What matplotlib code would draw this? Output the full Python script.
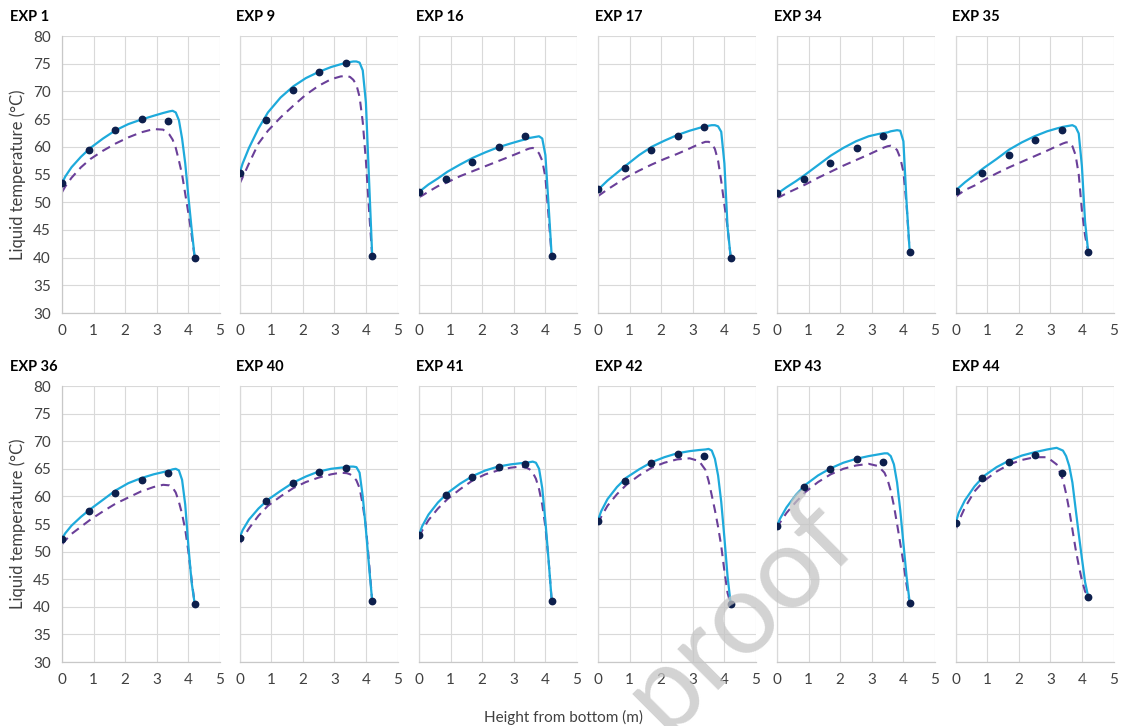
# liquid temperature profiles, 12 experiments, measured vs two model curves
import matplotlib
matplotlib.use('Agg')
import matplotlib.pyplot as plt

plt.rcParams['font.family'] = ['Lato', 'DejaVu Sans']

exp_names = ['EXP 1', 'EXP 9', 'EXP 16', 'EXP 17', 'EXP 34', 'EXP 35',
             'EXP 36', 'EXP 40', 'EXP 41', 'EXP 42', 'EXP 43', 'EXP 44']

# measurement heights (m)
meas_x = [0, 0.84, 1.68, 2.52, 3.36, 4.2]

measured = [
    [53.4, 59.5, 63.0, 65.0, 64.7, 40.0],
    [55.2, 64.8, 70.3, 73.5, 75.1, 40.2],
    [51.8, 54.2, 57.3, 60.0, 62.0, 40.2],
    [52.3, 56.2, 59.5, 61.9, 63.6, 40.0],
    [51.6, 54.2, 57.0, 59.8, 62.0, 41.0],
    [52.0, 55.3, 58.6, 61.2, 63.0, 41.0],
    [52.3, 57.3, 60.6, 63.0, 64.2, 40.5],
    [52.5, 59.1, 62.5, 64.5, 65.2, 41.0],
    [53.0, 60.2, 63.6, 65.4, 65.9, 41.1],
    [55.6, 62.8, 66.0, 67.7, 67.3, 40.5],
    [54.6, 61.7, 65.0, 66.8, 66.2, 40.7],
    [55.2, 63.3, 66.3, 67.5, 64.2, 41.8],
]

curve_x = [0, 0.1, 0.3, 0.6, 0.9, 1.3, 1.7, 2.1, 2.5, 2.9, 3.2, 3.4, 3.5, 3.6,
           3.7, 3.8, 3.9, 4.0, 4.1, 4.2]

model_solid = [
    [53.4, 54.6, 56.3, 58.2, 59.8, 61.5, 63.0, 64.1, 64.9, 65.6, 66.1, 66.4, 66.5, 66.2, 64.8, 61.5, 57.0, 51.0, 45.3, 40.0],
    [55.2, 57.0, 59.8, 63.3, 66.2, 68.9, 70.9, 72.4, 73.5, 74.4, 74.9, 75.2, 75.3, 75.4, 75.4, 75.2, 73.8, 68.0, 54.0, 40.2],
    [51.8, 52.3, 53.2, 54.3, 55.5, 56.8, 58.0, 59.0, 59.9, 60.6, 61.1, 61.4, 61.6, 61.7, 61.8, 61.9, 61.5, 58.5, 49.5, 40.2],
    [52.3, 52.8, 53.9, 55.3, 56.7, 58.5, 60.0, 61.1, 62.1, 62.9, 63.4, 63.7, 63.8, 63.9, 63.9, 63.7, 62.7, 57.0, 45.5, 40.0],
    [51.5, 51.9, 52.7, 53.8, 55.0, 56.7, 58.4, 59.8, 61.0, 61.9, 62.3, 62.5, 62.6, 62.8, 62.9, 63.0, 62.9, 61.0, 50.0, 41.0],
    [52.0, 52.6, 53.6, 54.9, 56.2, 57.8, 59.5, 60.8, 61.9, 62.8, 63.3, 63.6, 63.7, 63.8, 63.9, 63.6, 62.4, 56.5, 46.5, 41.0],
    [52.3, 53.3, 54.7, 56.3, 57.7, 59.4, 61.1, 62.4, 63.3, 64.0, 64.4, 64.7, 64.9, 65.0, 64.7, 63.0, 58.5, 51.0, 44.5, 40.5],
    [52.5, 53.9, 55.8, 57.8, 59.4, 61.0, 62.5, 63.6, 64.5, 65.0, 65.2, 65.3, 65.4, 65.4, 65.3, 64.3, 60.0, 54.0, 47.3, 41.0],
    [53.0, 54.6, 56.7, 58.9, 60.6, 62.3, 63.7, 64.7, 65.4, 65.8, 66.0, 66.1, 66.2, 66.3, 66.1, 65.0, 61.5, 55.5, 48.5, 41.1],
    [55.7, 57.3, 59.5, 61.7, 63.4, 64.9, 66.2, 67.1, 67.8, 68.2, 68.4, 68.5, 68.6, 68.3, 66.8, 63.8, 59.0, 52.5, 45.5, 40.5],
    [54.7, 56.0, 58.0, 60.3, 62.1, 63.8, 65.1, 66.1, 66.8, 67.3, 67.6, 67.8, 67.8, 67.3, 65.8, 62.5, 57.5, 51.5, 45.5, 40.7],
    [55.1, 57.0, 59.3, 61.8, 63.7, 65.3, 66.5, 67.4, 68.0, 68.5, 68.8, 68.3, 67.3, 65.5, 62.5, 57.8, 53.2, 48.8, 44.5, 41.8],
]

model_dashed = [
    [51.8, 52.8, 54.4, 56.3, 57.8, 59.3, 60.6, 61.7, 62.6, 63.2, 63.1, 62.2, 61.3, 59.8, 57.5, 55.0, 51.5, 48.0, 44.2, 40.0],
    [53.3, 54.5, 57.0, 60.6, 62.9, 65.3, 67.4, 69.4, 71.0, 72.2, 72.7, 72.8, 72.6, 72.1, 71.2, 69.0, 64.5, 57.5, 48.5, 40.2],
    [50.9, 51.2, 51.9, 52.9, 53.6, 54.7, 55.6, 56.5, 57.4, 58.3, 59.0, 59.5, 59.7, 59.8, 59.5, 58.8, 57.5, 54.5, 47.5, 40.2],
    [51.1, 51.5, 52.3, 53.4, 54.5, 55.7, 56.8, 57.8, 58.7, 59.7, 60.5, 60.9, 60.9, 60.6, 59.6, 57.5, 53.8, 49.5, 45.5, 40.0],
    [50.8, 51.0, 51.6, 52.4, 53.2, 54.4, 55.5, 56.6, 57.6, 58.6, 59.4, 59.9, 60.1, 60.2, 60.0, 59.4, 58.0, 55.5, 49.5, 41.0],
    [50.9, 51.4, 52.2, 53.0, 54.0, 55.2, 56.3, 57.3, 58.3, 59.3, 60.1, 60.6, 60.8, 60.8, 60.1, 58.5, 55.0, 48.5, 44.0, 41.0],
    [51.3, 52.0, 53.2, 54.5, 55.8, 57.3, 58.7, 59.8, 60.9, 61.7, 62.1, 62.0, 61.6, 60.7, 59.0, 56.8, 54.0, 50.0, 45.0, 40.5],
    [51.3, 52.4, 54.2, 56.5, 58.3, 60.0, 61.5, 62.6, 63.4, 64.0, 64.3, 64.2, 64.0, 63.6, 62.9, 61.5, 58.5, 54.5, 48.0, 41.0],
    [52.6, 53.8, 55.7, 57.8, 59.5, 61.3, 62.9, 64.0, 64.7, 65.2, 65.4, 65.2, 64.9, 64.3, 63.2, 61.3, 58.5, 54.5, 48.5, 41.1],
    [55.0, 56.3, 58.3, 60.4, 62.1, 63.8, 65.2, 66.1, 66.7, 66.9, 66.4, 64.8, 62.8, 60.2, 57.5, 54.5, 51.0, 46.5, 42.5, 40.5],
    [54.2, 55.3, 57.0, 59.0, 60.8, 62.6, 64.0, 65.0, 65.6, 65.9, 65.5, 64.3, 63.0, 61.0, 58.3, 55.0, 51.5, 48.0, 44.0, 40.7],
    [53.8, 55.5, 58.0, 60.9, 62.8, 64.5, 65.8, 66.6, 67.1, 67.1, 65.8, 63.0, 60.5, 57.5, 54.0, 50.5, 47.5, 44.8, 42.8, 41.8],
]

x_ticks = [0, 1, 2, 3, 4, 5]
y_ticks = [30, 35, 40, 45, 50, 55, 60, 65, 70, 75, 80]

W, H = 1121, 726
fig = plt.figure(figsize=(W / 100, H / 100), dpi=100)

solid_col = '#1eaadb'
dash_col = '#6a3f99'
dot_col = '#0d1f4c'
grid_col = '#d9d9d9'
text_col = '#404040'

lefts = [62, 239.5, 419, 598, 777, 955.5]
ax_w = 158
rows = [(36, 313), (386, 662)]  # pixel top / bottom

for i, name in enumerate(exp_names):
    r, c = divmod(i, 6)
    top, bot = rows[r]
    ax = fig.add_axes([lefts[c] / W, 1 - bot / H, ax_w / W, (bot - top) / H])
    ax.plot(curve_x, model_solid[i], color=solid_col, lw=1.6, zorder=3)
    ax.plot(curve_x, model_dashed[i], color=dash_col, lw=1.5, dashes=(4.2, 2.8), zorder=2)
    ax.plot(meas_x, measured[i], 'o', color=dot_col, ms=4.6, zorder=4)
    ax.set_xlim(0, 5)
    ax.set_ylim(30, 80)
    ax.set_xticks(x_ticks)
    ax.set_yticks(y_ticks)
    ax.grid(True, color=grid_col, lw=0.8)
    ax.set_axisbelow(True)
    for s in ['top', 'right']:
        ax.spines[s].set_visible(False)
    ax.spines['left'].set_color('#c8c8c8' if c == 0 else grid_col)
    ax.spines['bottom'].set_color('#c8c8c8')
    ax.spines['left'].set_linewidth(0.9)
    ax.spines['bottom'].set_linewidth(0.9)
    ax.tick_params(length=0, labelsize=11, labelcolor=text_col, pad=8)
    if c != 0:
        ax.set_yticklabels([])
    else:
        ax.set_ylabel('Liquid temperature (°C)', fontsize=12, color=text_col, labelpad=5)
    tx = 10 if c == 0 else lefts[c] - 3
    fig.text(tx / W, 1 - (top - 19) / H, name, fontsize=10.5, fontweight='bold',
             color='black', ha='left', va='center')

fig.text(563 / W, 1 - 717 / H, 'Height from bottom (m)', fontsize=11, color=text_col,
         ha='center', va='center')

# watermark, cut by the lower edge as in the source
fig.text(740 / W, 1 - 615 / H, 'proof', fontsize=82, color='#c4c4c4', alpha=0.75,
         rotation=45, ha='center', va='center', zorder=10)

fig.savefig('out.png', dpi=100)
